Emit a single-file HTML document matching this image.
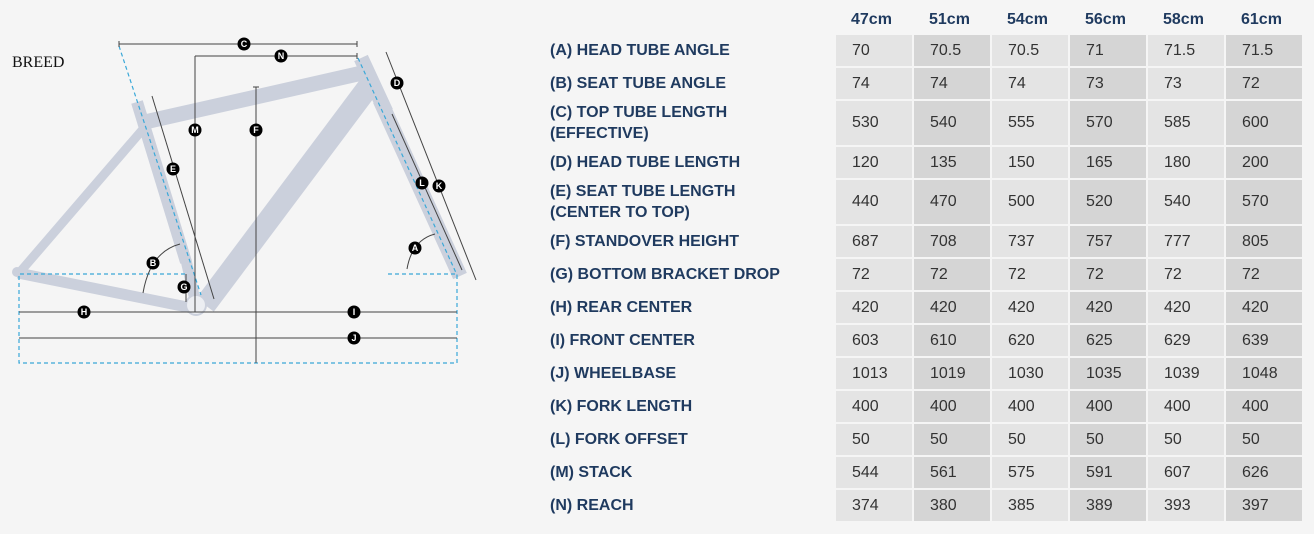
<!DOCTYPE html>
<html><head><style>
body{margin:0;width:1314px;height:534px;background:#f5f5f5;position:relative;overflow:hidden;font-family:"Liberation Sans",Arial,sans-serif}
.l{position:absolute;left:550px;color:#1f3a5f;font-weight:bold;font-size:16px;line-height:21px}
.h{position:absolute;top:11px;color:#1f3a5f;font-weight:bold;font-size:16px;width:76px;text-align:left}
.c{position:absolute;width:76px;color:#333;font-size:16px;box-sizing:border-box;padding-left:16px;display:flex;align-items:center}
.o{background:#e4e4e4}.e{background:#d5d5d5}
</style></head><body>
<svg width="520" height="380" style="position:absolute;left:0;top:0" font-family="Liberation Serif,serif">
<text x="12" y="67" font-size="16" fill="#111">BREED</text>
<g stroke="#cbd0dc" stroke-linecap="butt" fill="none">
<line x1="20" y1="272" x2="144" y2="128" stroke-width="9"/>
<line x1="18" y1="273" x2="192" y2="308" stroke-width="11"/>
<line x1="137" y1="102" x2="186" y2="262" stroke-width="12"/>
<line x1="186" y1="260" x2="195" y2="300" stroke-width="11"/>
<line x1="145" y1="122" x2="362" y2="73" stroke-width="15"/>
<line x1="372" y1="82" x2="205" y2="305" stroke-width="22"/>
<line x1="361" y1="58" x2="386" y2="112" stroke-width="15"/>
<line x1="380" y1="100" x2="460" y2="276" stroke-width="15"/>
</g>
<circle cx="17" cy="272" r="5" fill="#cbd0dc"/>
<circle cx="196" cy="305" r="10" fill="#eceef2" stroke="#cbd0dc" stroke-width="2"/>
<g stroke="#3aa8d8" stroke-width="1.2" stroke-dasharray="4,3" fill="none">
<line x1="119" y1="46" x2="201" y2="295"/>
<line x1="358" y1="58" x2="457" y2="275"/>
<polyline points="185,274 19,274 19,363 457,363 457,274 385,274"/>
</g>
<g stroke="#444" stroke-width="1" fill="none">
<line x1="119" y1="44" x2="357" y2="44"/><line x1="119" y1="41" x2="119" y2="47"/><line x1="357" y1="41" x2="357" y2="47"/>
<line x1="195" y1="56" x2="357" y2="56"/><line x1="357" y1="53" x2="357" y2="59"/>
<line x1="195" y1="56" x2="195" y2="312"/>
<line x1="256" y1="87" x2="256" y2="363"/><line x1="253" y1="87" x2="259" y2="87"/>
<line x1="152" y1="96" x2="214" y2="299"/>
<line x1="386" y1="52" x2="476" y2="280"/>
<line x1="392" y1="114" x2="462" y2="270"/>
<line x1="19" y1="312" x2="457" y2="312"/>
<line x1="19" y1="338" x2="457" y2="338"/>
<line x1="186" y1="274" x2="186" y2="302"/>
<path d="M180,244 Q150,252 143,293"/>
<path d="M435,234 Q412,240 407,269"/>
</g>
<g font-family="Liberation Sans,sans-serif" font-size="9" font-weight="bold" fill="#fff" text-anchor="middle">
<g fill="#000"><circle cx="244" cy="44" r="6.5"/><circle cx="281" cy="56" r="6.5"/><circle cx="195" cy="130" r="6.5"/><circle cx="256" cy="130" r="6.5"/><circle cx="173" cy="169" r="6.5"/><circle cx="397" cy="83" r="6.5"/><circle cx="422" cy="183" r="6.5"/><circle cx="439" cy="186" r="6.5"/><circle cx="415" cy="248" r="6.5"/><circle cx="153" cy="263" r="6.5"/><circle cx="184" cy="287" r="6.5"/><circle cx="84" cy="312" r="6.5"/><circle cx="354" cy="312" r="6.5"/><circle cx="354" cy="338" r="6.5"/></g>
<text x="244" y="47">C</text><text x="281" y="59">N</text><text x="195" y="133">M</text><text x="256" y="133">F</text><text x="173" y="172">E</text><text x="397" y="86">D</text><text x="422" y="186">L</text><text x="439" y="189">K</text><text x="415" y="251">A</text><text x="153" y="266">B</text><text x="184" y="290">G</text><text x="84" y="315">H</text><text x="354" y="315">I</text><text x="354" y="341">J</text>
</g>
</svg>
<div class="h" style="left:851px">47cm</div><div class="h" style="left:929px">51cm</div><div class="h" style="left:1007px">54cm</div><div class="h" style="left:1085px">56cm</div><div class="h" style="left:1163px">58cm</div><div class="h" style="left:1241px">61cm</div>
<div id="t"></div>
<script>
var rows=[["(A) HEAD TUBE ANGLE",[70,70.5,70.5,71,71.5,71.5]],["(B) SEAT TUBE ANGLE",[74,74,74,73,73,72]],["(C) TOP TUBE LENGTH<br>(EFFECTIVE)",[530,540,555,570,585,600]],["(D) HEAD TUBE LENGTH",[120,135,150,165,180,200]],["(E) SEAT TUBE LENGTH<br>(CENTER TO TOP)",[440,470,500,520,540,570]],["(F) STANDOVER HEIGHT",[687,708,737,757,777,805]],["(G) BOTTOM BRACKET DROP",[72,72,72,72,72,72]],["(H) REAR CENTER",[420,420,420,420,420,420]],["(I) FRONT CENTER",[603,610,620,625,629,639]],["(J) WHEELBASE",[1013,1019,1030,1035,1039,1048]],["(K) FORK LENGTH",[400,400,400,400,400,400]],["(L) FORK OFFSET",[50,50,50,50,50,50]],["(M) STACK",[544,561,575,591,607,626]],["(N) REACH",[374,380,385,389,393,397]]];
var y=35,h="";
rows.forEach(function(r){var tall=r[0].indexOf("<br>")>0,ht=tall?44:31;
h+='<div class="l" style="top:'+(y+ht/2-(tall?21:10.5))+'px">'+r[0]+'</div>';
r[1].forEach(function(v,i){h+='<div class="c '+(i%2?'e':'o')+'" style="left:'+(836+i*78)+'px;top:'+y+'px;height:'+ht+'px">'+v+'</div>';});
y+=ht+2;});
document.getElementById("t").innerHTML=h;
</script>
</body></html>
